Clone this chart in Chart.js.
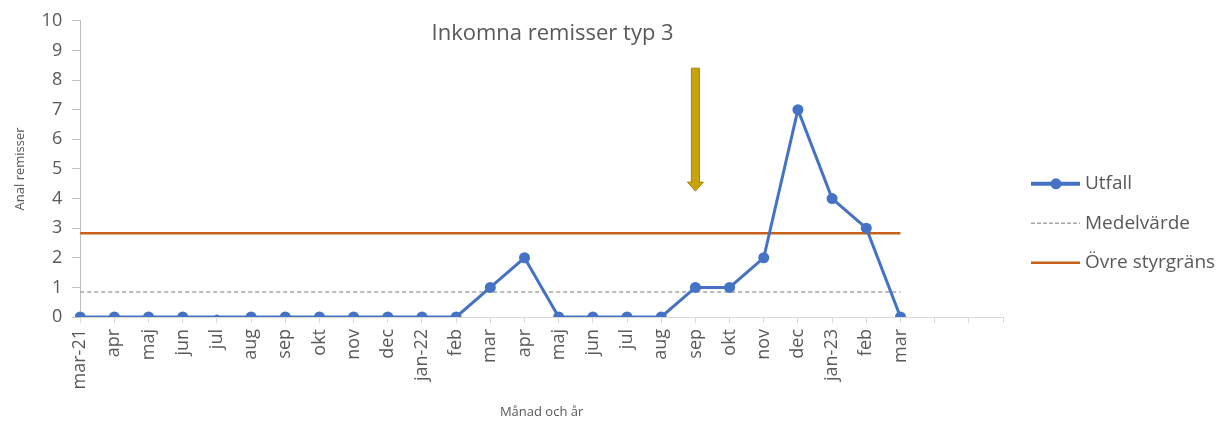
<!DOCTYPE html>
<html>
<head>
<meta charset="utf-8">
<script src="https://cdn.jsdelivr.net/npm/chart.js@4/dist/chart.umd.min.js"></script>
<style>
  body { margin: 0; background: #fff; }
  #wrap { width: 1222px; height: 421px; }
</style>
</head>
<body>
<div id="wrap"><canvas id="kort"></canvas></div>
<script>
// x-axel: månader (tre tomma kategorier efter mar)
var manader = ['mar-21','apr','maj','jun','jul','aug','sep','okt','nov','dec','jan-22','feb',
               'mar','apr','maj','jun','jul','aug','sep','okt','nov','dec','jan-23','feb','mar','','',''];
// utfall per månad
var utfall = [0,0,0,0,0,0,0,0,0,0,0,0,1,2,0,0,0,0,1,1,2,7,4,3,0];
// medelvärde och övre styrgräns
var medel = [0.84,0.84,0.84,0.84,0.84,0.84,0.84,0.84,0.84,0.84,0.84,0.84,0.84,
             0.84,0.84,0.84,0.84,0.84,0.84,0.84,0.84,0.84,0.84,0.84,0.84];
var ovre = [2.83,2.83,2.83,2.83,2.83,2.83,2.83,2.83,2.83,2.83,2.83,2.83,2.83,
            2.83,2.83,2.83,2.83,2.83,2.83,2.83,2.83,2.83,2.83,2.83,2.83];
var yTicks = [0,1,2,3,4,5,6,7,8,9,10];
// pil vid sep (index 18), från 8.4 ner till 4.25
var pilIndex = 18;
var pilFran = 8.4;
var pilTill = 4.25;

var fontNamn = "'Open Sans', sans-serif";
var gra = '#595959';

// titel, pil och legend ritas själv
var extraRitning = {
  id: 'extraRitning',
  afterDatasetsDraw: function(chart){
    var ctx = chart.ctx;
    var xs = chart.scales.x, ys = chart.scales.y;
    var a = chart.chartArea;

    // titel
    ctx.save();
    ctx.fillStyle = gra;
    ctx.font = '22px ' + fontNamn;
    ctx.textAlign = 'center';
    ctx.textBaseline = 'middle';
    ctx.fillText('Inkomna remisser typ 3', (a.left + a.right) / 2 + 11, a.top + 13);
    ctx.restore();

    // pil
    var px = xs.getPixelForValue(pilIndex);
    var y1 = ys.getPixelForValue(pilFran);
    var y2 = ys.getPixelForValue(pilTill);
    ctx.save();
    ctx.fillStyle = '#C9A20C';
    ctx.strokeStyle = '#A68500';
    ctx.lineWidth = 1;
    ctx.beginPath();
    ctx.moveTo(px - 4, y1);
    ctx.lineTo(px + 4, y1);
    ctx.lineTo(px + 4, y2 - 9);
    ctx.lineTo(px + 8, y2 - 9);
    ctx.lineTo(px, y2);
    ctx.lineTo(px - 8, y2 - 9);
    ctx.lineTo(px - 4, y2 - 9);
    ctx.closePath();
    ctx.fill();
    ctx.stroke();
    ctx.restore();

    // legend
    var lx = a.right + 28;
    var rader = [
      {text: 'Utfall', farg: '#4472C4', bredd: 4, streck: [], punkt: true},
      {text: 'Medelvärde', farg: '#A5A5A5', bredd: 1.5, streck: [4, 2], punkt: false},
      {text: 'Övre styrgräns', farg: '#C8601A', bredd: 2.5, streck: [], punkt: false}
    ];
    ctx.save();
    ctx.font = '19px ' + fontNamn;
    ctx.textBaseline = 'middle';
    rader.forEach(function(r, i){
      var ly = a.top + 163 + i * 39.5;
      ctx.strokeStyle = r.farg;
      ctx.lineWidth = r.bredd;
      ctx.setLineDash(r.streck);
      ctx.beginPath();
      ctx.moveTo(lx, ly);
      ctx.lineTo(lx + 49, ly);
      ctx.stroke();
      ctx.setLineDash([]);
      if (r.punkt) {
        ctx.fillStyle = r.farg;
        ctx.beginPath();
        ctx.arc(lx + 25, ly, 5.5, 0, Math.PI * 2);
        ctx.fill();
      }
      ctx.fillStyle = gra;
      ctx.fillText(r.text, lx + 54, ly);
    });
    ctx.restore();
  }
};

new Chart(document.getElementById('kort'), {
  type: 'line',
  data: {
    labels: manader,
    datasets: [
      {
        label: 'Utfall',
        data: utfall,
        borderColor: '#4472C4',
        backgroundColor: '#4472C4',
        borderWidth: 3,
        pointRadius: function(c){ return c.dataIndex === 4 ? 2.5 : 5.5; },
        pointBorderWidth: 0,
        tension: 0,
        order: 0
      },
      {
        label: 'Medelvärde',
        data: medel,
        borderColor: '#A5A5A5',
        borderWidth: 1.5,
        borderDash: [4, 3],
        pointRadius: 0,
        order: 2
      },
      {
        label: 'Övre styrgräns',
        data: ovre,
        borderColor: '#C8601A',
        borderWidth: 2.5,
        pointRadius: 0,
        order: 1
      }
    ]
  },
  options: {
    responsive: true,
    maintainAspectRatio: false,
    animation: false,
    layout: { padding: { top: 12, right: 219, left: 12, bottom: 1 } },
    plugins: {
      legend: { display: false },
      tooltip: { enabled: false }
    },
    scales: {
      x: {
        offset: false,
        border: { color: '#D9D9D9' },
        grid: { drawOnChartArea: false, tickLength: 6, color: '#D9D9D9' },
        ticks: {
          autoSkip: false, maxRotation: 90, minRotation: 90,
          color: gra, padding: 6,
          font: { family: fontNamn, size: 18 }
        },
        title: {
          display: true, text: 'Månad och år', color: gra,
          font: { family: fontNamn, size: 13 }, padding: { top: 9, bottom: 0 }
        }
      },
      y: {
        min: 0,
        max: 10,
        afterBuildTicks: function(s){ s.ticks = yTicks.map(function(v){ return {value: v}; }); },
        border: { color: '#BFBFBF' },
        grid: { drawOnChartArea: false, tickLength: 8, color: '#BFBFBF' },
        ticks: {
          color: gra, padding: 10,
          font: { family: fontNamn, size: 18 }
        },
        title: {
          display: true, text: 'Anal remisser', color: gra,
          font: { family: fontNamn, size: 13 }, padding: { top: 0, bottom: 4 }
        }
      }
    }
  },
  plugins: [extraRitning]
});
</script>
</body>
</html>
